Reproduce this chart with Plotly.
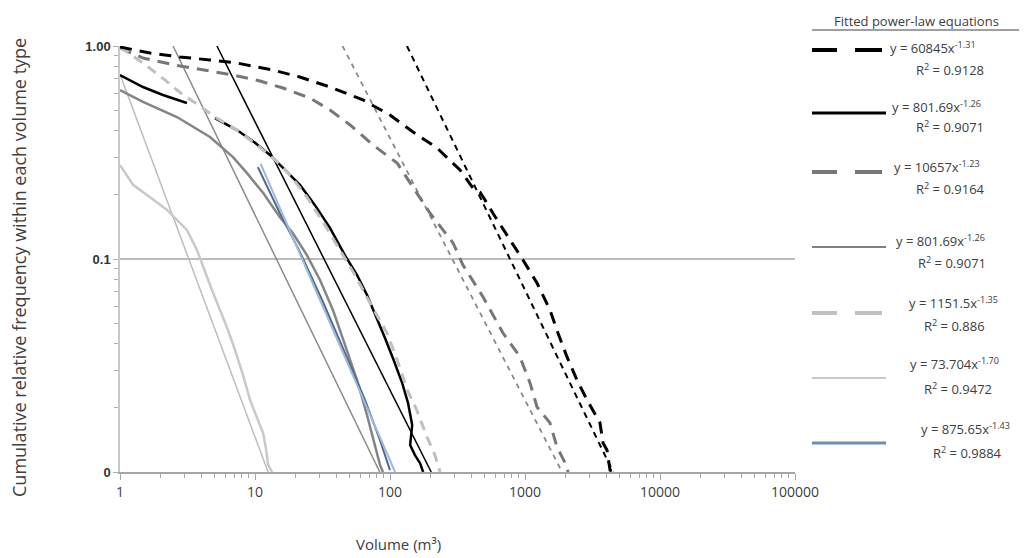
import plotly.graph_objects as go

# ---------------- data ----------------
# Empirical cumulative curves
A_x = [1, 1.29, 1.67, 2.15, 2.78, 4.64, 7.36, 13.6, 21.5, 35.9, 63.1, 100, 148, 223, 330, 412, 464, 506,
       579, 774, 967, 1227, 1531, 1755, 2047, 2428, 2879, 3594, 3784, 4048, 4266, 4642]
A_y = [0.989, 0.958, 0.927, 0.907, 0.888, 0.860, 0.832, 0.771, 0.715, 0.642, 0.558, 0.474, 0.395, 0.332,
       0.262, 0.215, 0.206, 0.189, 0.164, 0.123, 0.0989, 0.0771, 0.0576, 0.0449, 0.0347, 0.0270, 0.0218,
       0.0170, 0.0137, 0.0127, 0.0102, 0.0100]

B_x = [1, 1.48, 2.08, 3.13, None, 5.05, 7.36, 10, 12.9, 16.7, 21.5, 27.8, 35.9, 46.4, 57.0, 67.6, 80.1,
       91.8, 105, 123, 136, 146, 141, 153, 167, 176]
B_y = [0.731, 0.642, 0.589, 0.540, None, 0.459, 0.403, 0.351, 0.308, 0.262, 0.223, 0.179, 0.140, 0.104,
       0.0841, 0.0678, 0.0528, 0.0426, 0.0343, 0.0262, 0.0211, 0.0166, 0.0134, 0.0120, 0.0110, 0.0100]

C_x = [1, 1.48, 2.55, 4.64, 6.87, 10.9, 16.1, 25.5, 35.9, 50.6, 74.8, 113, 158, 198, 293, 347, 489, 687,
       918, 1089, 1227, 1531, 1726, 2047, 2083]
C_y = [0.979, 0.878, 0.814, 0.763, 0.731, 0.685, 0.635, 0.570, 0.501, 0.426, 0.343, 0.282, 0.204, 0.164,
       0.119, 0.0937, 0.0663, 0.0449, 0.0347, 0.0262, 0.0202, 0.0170, 0.0131, 0.0106, 0.0100]

D_x = [1, 1.48, 2.64, 4.64, 6.87, 8.73, 11.5, 15.3, 19.1, 24.3, 30.3, 37.8, 46.4, 57.0, 67.6, 77.4, 84.3, 88.7]
D_y = [0.621, 0.546, 0.464, 0.374, 0.301, 0.253, 0.204, 0.157, 0.132, 0.104, 0.0797, 0.0576, 0.0395,
       0.0270, 0.0185, 0.0134, 0.0108, 0.0100]

E_x = [1, 1.48, 2.15, 2.93, 3.91, 5.05, 7.36, 10.3, 14.1, 18.2, 24.3, 33.0, 42.6, 55.0, 71.1, 95.0, 113,
       134, 158, 188, 215, 235]
E_y = [0.989, 0.832, 0.693, 0.589, 0.523, 0.464, 0.403, 0.343, 0.292, 0.248, 0.195, 0.144, 0.110, 0.0841,
       0.0621, 0.0449, 0.0336, 0.0243, 0.0195, 0.0146, 0.0120, 0.0100]

F_x = [1, 1.25, 1.67, 2.23, 3.13, 3.72, 4.80, 6.31, 7.11, 8.15, 9.18, 10.3, 11.5, 12.1, 12.5, 13.4]
F_y = [0.276, 0.223, 0.195, 0.170, 0.137, 0.110, 0.0715, 0.0464, 0.0374, 0.0285, 0.0218, 0.0181, 0.0152,
       0.0127, 0.0108, 0.0100]

G_x = [10.5, 15.3, 21.5, 31.4, 46.4, 65.3, 84.3, 100]
G_y = [0.270, 0.164, 0.108, 0.0642, 0.0362, 0.0218, 0.0141, 0.0102]

# Fitted power-law lines (end points)
A_fit_x, A_fit_y = [133.5, 4490], [1.0, 0.01]
B_fit_x, B_fit_y = [5.22, 202], [1.0, 0.01]
C_fit_x, C_fit_y = [44.5, 1882], [1.0, 0.01]
D_fit_x, D_fit_y = [2.47, 84], [1.0, 0.01]
F_fit_x, F_fit_y = [1.0, 12.5], [0.737, 0.01]
G_fit_x, G_fit_y = [11.0, 109], [0.28, 0.01]

# Axis ticks
x_ticks = [1, 10, 100, 1000, 10000, 100000]
x_ticklabels = ["1", "10", "100", "1000", "10000", "100000"]
y_ticks = [0.01, 0.1, 1]
y_ticklabels = ["<b>0</b>", "<b>0.1</b>", "<b>1.00</b>"]

# Legend texts
legend_title = "Fitted power-law equations"
legend_eq = ["y = 60845x<sup>-1.31</sup>", "y = 801.69x<sup>-1.26</sup>", "y = 10657x<sup>-1.23</sup>",
             "y = 801.69x<sup>-1.26</sup>", "y = 1151.5x<sup>-1.35</sup>", "y = 73.704x<sup>-1.70</sup>",
             "y = 875.65x<sup>-1.43</sup>"]
legend_r2 = ["R<sup>2</sup> = 0.9128", "R<sup>2</sup> = 0.9071", "R<sup>2</sup> = 0.9164",
             "R<sup>2</sup> = 0.9071", "R<sup>2</sup> = 0.886", "R<sup>2</sup> = 0.9472",
             "R<sup>2</sup> = 0.9884"]

# ---------------- styles ----------------
BLACK = "#000000"
DGREY = "#777777"
MGREY = "#8a8a8a"
LGREY = "#c0c0c0"
LLGREY = "#c9c9c9"
DBLUE = "#4f6a8c"
LBLUE = "#9db9dc"

fig = go.Figure()


def add(x, y, color, width, dash="solid"):
    fig.add_trace(go.Scatter(x=x, y=y, mode="lines", line=dict(color=color, width=width, dash=dash),
                             showlegend=False, hoverinfo="skip"))


add(F_fit_x, F_fit_y, "#bdbdbd", 1.5)
add(F_x, F_y, LLGREY, 2.5)
add(D_fit_x, D_fit_y, MGREY, 1.5)
add(D_x, D_y, "#858585", 2.5)
add(C_fit_x, C_fit_y, MGREY, 1.8, "5px,5px")
add(C_x, C_y, DGREY, 3, "12px,8px")
add(G_x, G_y, DBLUE, 2)
add(G_fit_x, G_fit_y, LBLUE, 2)
add(B_fit_x, B_fit_y, BLACK, 1.5)
add(B_x, B_y, BLACK, 2.5)
add(E_x, E_y, LGREY, 3, "10px,7px")
add(A_fit_x, A_fit_y, BLACK, 2, "6px,5px")
add(A_x, A_y, BLACK, 3, "12px,8px")

# page has an 8px body margin: the figure is sized/offset to compensate
OFF = 8
W, H = 1027 - OFF, 558 - OFF
L, R, T, Bm = 120, 795, 46, 472  # plot area in page pixels

x_minor = [k * 10 ** d for d in range(5) for k in range(2, 10)]
y_minor = [k * 10 ** d for d in (-2, -1) for k in range(2, 10)]

fig.update_layout(
    width=W, height=H,
    margin=dict(l=L - OFF, r=(W + OFF) - R, t=T - OFF, b=(H + OFF) - Bm, pad=0),
    paper_bgcolor="white", plot_bgcolor="white",
    showlegend=False,
    font=dict(family="Open Sans", color="#404040"),
)
fig.update_xaxes(
    type="log", range=[0, 5], tickmode="array", tickvals=x_ticks, ticktext=x_ticklabels,
    showgrid=False, zeroline=False, showline=True, linecolor="#a6a6a6", linewidth=2,
    ticks="outside", ticklen=6, tickcolor="#a6a6a6", tickwidth=1,
    tickfont=dict(family="Open Sans", size=14, color="#404040"),
    minor=dict(ticks="outside", ticklen=4, tickcolor="#a6a6a6", tickmode="array", tickvals=x_minor,
               showgrid=False),
)
fig.update_yaxes(
    type="log", range=[-2, 0], tickmode="array", tickvals=y_ticks, ticktext=y_ticklabels,
    showgrid=True, gridcolor="#bdbdbd", gridwidth=2, zeroline=False,
    showline=True, linecolor="#c8c8c8", linewidth=1.5,
    ticks="outside", ticklen=5, tickcolor="#b0b0b0",
    tickfont=dict(family="Liberation Sans", size=13, color="#333333"),
    minor=dict(ticks="outside", ticklen=4, tickcolor="#b0b0b0", tickmode="array", tickvals=y_minor,
               showgrid=False),
)


def pxx(v):
    return (v - L) / (R - L)


def pxy(v):
    return (Bm - v) / (Bm - T)


ann = []
ann.append(dict(text="Volume (m³)", x=pxx(398), y=pxy(544), xref="paper", yref="paper",
                showarrow=False, font=dict(size=15, color="#404040"), xanchor="center", yanchor="middle"))
ann.append(dict(text="Cumulative relative frequency within each volume type", x=pxx(19), y=pxy(268),
                xref="paper", yref="paper", showarrow=False, textangle=-90,
                font=dict(size=18, color="#404040"), xanchor="center", yanchor="middle"))
ann.append(dict(text=legend_title, x=pxx(916), y=pxy(21), xref="paper", yref="paper", showarrow=False,
                font=dict(size=13, color="#404040"), xanchor="center", yanchor="middle"))

eq_y = [48, 106, 166, 240, 302, 363, 428]
r2_y = [69, 127, 188, 262, 325, 388, 452]
eq_cx = [933, 936, 937, 941, 953, 955, 965]
r2_cx = [950, 950, 950, 952, 954, 958, 967]
for i in range(7):
    ann.append(dict(text=legend_eq[i], x=pxx(eq_cx[i]), y=pxy(eq_y[i]), xref="paper", yref="paper",
                    showarrow=False, font=dict(size=13, color="#404040"), xanchor="center", yanchor="middle"))
    ann.append(dict(text=legend_r2[i], x=pxx(r2_cx[i]), y=pxy(r2_y[i]), xref="paper", yref="paper",
                    showarrow=False, font=dict(size=13, color="#404040"), xanchor="center", yanchor="middle"))
fig.update_layout(annotations=ann)

shapes = []
# underline of legend title
shapes.append(dict(type="line", xref="paper", yref="paper", x0=pxx(812), x1=pxx(1020), y0=pxy(30), y1=pxy(30),
                   line=dict(color="#404040", width=1)))
line_y = [50, 113, 172, 247, 313, 378, 443]
samples = [
    ("dash", BLACK, 4), ("solid", BLACK, 3), ("dash", DGREY, 4), ("solid", "#808080", 2),
    ("dash", LGREY, 4), ("solid", LLGREY, 2), ("solid", "#6f8db5", 3),
]
for (kind, col, wd), yy in zip(samples, line_y):
    if kind == "dash":
        for a, b in [(812, 837), (855, 882)]:
            shapes.append(dict(type="line", xref="paper", yref="paper", x0=pxx(a), x1=pxx(b),
                               y0=pxy(yy), y1=pxy(yy), line=dict(color=col, width=wd)))
    else:
        shapes.append(dict(type="line", xref="paper", yref="paper", x0=pxx(812), x1=pxx(886),
                           y0=pxy(yy), y1=pxy(yy), line=dict(color=col, width=wd)))
fig.update_layout(shapes=shapes)

fig.write_html("out.html")
